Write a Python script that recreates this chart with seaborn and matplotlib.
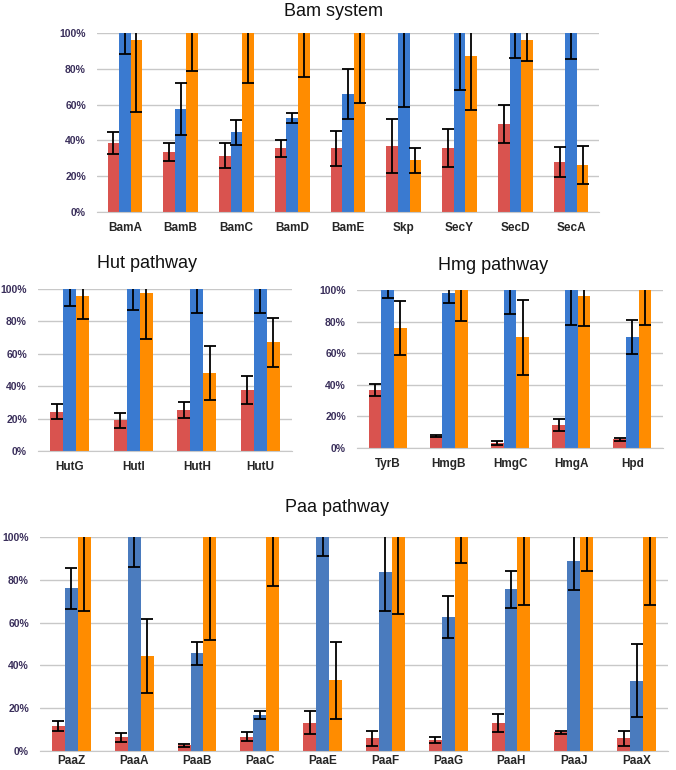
import numpy as np
import pandas as pd
import matplotlib
matplotlib.use('Agg')
import matplotlib.pyplot as plt
import seaborn as sns

# values, in percent (bars are capped at 100 by the axis)
bam_genes = ['BamA', 'BamB', 'BamC', 'BamD', 'BamE', 'Skp', 'SecY', 'SecD', 'SecA']
bam_red = [38.5, 33.5, 31.5, 35.5, 35.5, 37, 35.5, 49, 28]
bam_red_err = [6, 5, 7, 4.5, 9.7, 15, 10.6, 10.6, 8.5]
bam_blue = [100, 57.5, 44.5, 52.5, 66, 100, 100, 100, 100]
bam_blue_err = [12, 14.5, 6.8, 3, 13.8, 41.5, 32, 14, 14.7]
bam_orange = [96, 100, 100, 100, 100, 29, 87, 96, 26]
bam_orange_err = [40, 21.5, 28, 24.4, 39, 7, 30, 11.5, 10.6]

hut_genes = ['HutG', 'HutI', 'HutH', 'HutU']
hut_red = [24.3, 19.1, 25.3, 37.5]
hut_red_err = [4.6, 4.6, 5, 8.5]
hut_blue = [100, 100, 100, 100]
hut_blue_err = [10.5, 13, 15, 15]
hut_orange = [95.7, 97.3, 48, 67]
hut_orange_err = [14, 28, 16.6, 15]

hmg_genes = ['TyrB', 'HmgB', 'HmgC', 'HmgA', 'Hpd']
hmg_red = [36.6, 7.4, 3.4, 14.5, 5.5]
hmg_red_err = [3.6, 0.6, 1.2, 3.7, 1]
hmg_blue = [100, 98.3, 100, 100, 70.5]
hmg_blue_err = [5, 6.3, 15, 22, 10.8]
hmg_orange = [76, 100, 70, 96, 100]
hmg_orange_err = [17, 19.5, 23.5, 19, 22]

paa_genes = ['PaaZ', 'PaaA', 'PaaB', 'PaaC', 'PaaE', 'PaaF', 'PaaG', 'PaaH', 'PaaJ', 'PaaX']
paa_red = [11.7, 6.4, 2.7, 6.6, 13.3, 5.9, 5.3, 13.3, 8.7, 5.9]
paa_red_err = [2.2, 2.1, 0.8, 2.1, 5.3, 3.4, 1.4, 4.2, 0.7, 3.5]
paa_blue = [76, 100, 45.6, 16.8, 100, 83.6, 62.8, 75.5, 88.8, 32.8]
paa_blue_err = [9.7, 13.8, 5.2, 2, 9, 18.4, 9.8, 8.6, 13.7, 17]
paa_orange = [100, 44.5, 100, 100, 33, 100, 100, 100, 100, 100]
paa_orange_err = [34.7, 17.4, 48, 22.7, 18, 36, 12, 32, 16, 32]

series = ['red', 'blue', 'orange']

sns.set_style('white')
plt.rcParams['font.family'] = ['Liberation Sans', 'DejaVu Sans']

W, H = 676, 770
fig = plt.figure(figsize=(W / 100, H / 100), dpi=100)


def px_axes(x0, y0, x1, y1):
    return fig.add_axes([x0 / W, 1 - y1 / H, (x1 - x0) / W, (y1 - y0) / H])


def panel(ax, genes, vals, errs, colors, ticks_between=False, xpad=7):
    df = pd.DataFrame({
        'gene': [g for g in genes for _ in series],
        'series': [s for _ in genes for s in series],
        'value': [v[i] for i in range(len(genes)) for v in vals],
    })
    sns.barplot(data=df, x='gene', y='value', hue='series', hue_order=series,
                order=genes, palette=colors, width=0.62, gap=0, saturation=1,
                errorbar=None, legend=False, linewidth=0, ax=ax, zorder=2)
    for cont, v, e in zip(ax.containers, vals, errs):
        xs = [p.get_x() + p.get_width() / 2 for p in cont.patches]
        ax.errorbar(xs, v, yerr=e, fmt='none', ecolor='black', elinewidth=1.3,
                    capsize=4, capthick=1.3, zorder=3)
    ax.set_ylim(0, 100)
    ax.set_xlim(-0.5, len(genes) - 0.5)
    ax.set_yticks(range(0, 101, 20))
    ax.set_yticklabels([f'{t}%' for t in range(0, 101, 20)])
    ax.yaxis.grid(True, color='#c8c8c8', linewidth=1)
    ax.set_axisbelow(True)
    ax.set_xlabel('')
    ax.set_ylabel('')
    for s in ['left', 'right', 'top']:
        ax.spines[s].set_visible(False)
    ax.spines['bottom'].set_color('#c8c8c8')
    ax.tick_params(axis='y', length=0, pad=8, labelsize=7.5, labelcolor='#3a2f5b')
    ax.tick_params(axis='x', length=0, pad=xpad, labelsize=8.5)
    for lab in ax.get_yticklabels() + ax.get_xticklabels():
        lab.set_fontweight('bold')
    if ticks_between:
        ax.set_xticks(np.arange(-0.5, len(genes)), minor=True)
        ax.tick_params(axis='x', which='minor', length=4, color='#b0b0b0', width=1)


red = '#d9534f'
orange = '#ff8c00'

ax1 = px_axes(97, 33, 599, 212)
panel(ax1, bam_genes, [bam_red, bam_blue, bam_orange],
      [bam_red_err, bam_blue_err, bam_orange_err], [red, '#3a7ad0', orange])

ax2 = px_axes(38, 289, 292, 451)
panel(ax2, hut_genes, [hut_red, hut_blue, hut_orange],
      [hut_red_err, hut_blue_err, hut_orange_err], [red, '#3a7ad0', orange])

ax3 = px_axes(357, 290, 663, 448)
panel(ax3, hmg_genes, [hmg_red, hmg_blue, hmg_orange],
      [hmg_red_err, hmg_blue_err, hmg_orange_err], [red, '#3a7ad0', orange])

ax4 = px_axes(40, 537, 668, 751)
panel(ax4, paa_genes, [paa_red, paa_blue, paa_orange],
      [paa_red_err, paa_blue_err, paa_orange_err], [red, '#4a7bbe', orange],
      ticks_between=True, xpad=3)

title_kw = dict(ha='center', va='center', fontsize=13, color='#111111')
fig.text(333 / W, 1 - 12 / H, 'Bam system', **title_kw)
fig.text(147 / W, 1 - 264 / H, 'Hut pathway', **title_kw)
fig.text(493 / W, 1 - 266 / H, 'Hmg pathway', **title_kw)
fig.text(337 / W, 1 - 508 / H, 'Paa pathway', **title_kw)

fig.savefig('out.png', dpi=100, facecolor='white')
